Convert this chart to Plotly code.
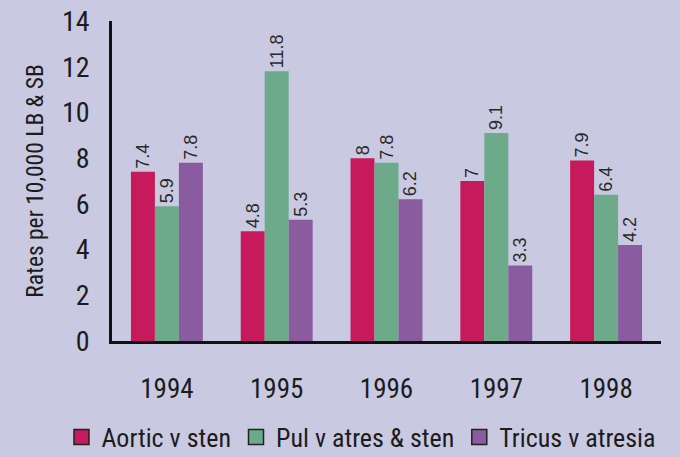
import plotly.graph_objects as go

years = ["1994", "1995", "1996", "1997", "1998"]
aortic = [7.4, 4.8, 8, 7, 7.9]
pulv = [5.9, 11.8, 7.8, 9.1, 6.4]
tricus = [7.8, 5.3, 6.2, 3.3, 4.2]
series_names = ["Aortic v sten", "Pul v atres & sten", "Tricus v atresia"]
colors = ["#C61A5C", "#6DAA8A", "#8B5BA0"]

BG = "#C9C9E2"
FONT = "Roboto Condensed, DejaVu Sans Condensed, sans-serif"
LBLFONT = "Liberation Sans, Arial, sans-serif"
INK = "#1c1c1c"

fig = go.Figure()
for name, vals, col in zip(series_names, [aortic, pulv, tricus], colors):
    fig.add_trace(go.Bar(
        x=years, y=vals, name=name, showlegend=False,
        marker=dict(color=col, line=dict(width=0)),
        text=[f"{v:g}" for v in vals],
        textposition="outside", textangle=-90, constraintext="none",
        textfont=dict(size=18, color="#2a2a2a", family=LBLFONT),
        cliponaxis=False,
    ))
# legend entries: square swatches with dark outline
for name, col in zip(series_names, colors):
    fig.add_trace(go.Scatter(
        x=[None], y=[None], mode="markers", name=name,
        marker=dict(symbol="square", size=15, color=col, line=dict(color="#222222", width=1.5)),
    ))

fig.update_layout(
    width=680, height=457,
    paper_bgcolor=BG, plot_bgcolor=BG,
    margin=dict(l=112, r=19, t=21, b=116, autoexpand=False),
    barmode="group", bargap=0.345, bargroupgap=0,
    font=dict(family=FONT, color=INK),
    showlegend=True,
    legend=dict(
        orientation="h", xref="paper", yref="paper",
        x=-0.092, y=-0.30, xanchor="left", yanchor="middle",
        font=dict(size=26, family=FONT, color=INK),
        bgcolor="rgba(0,0,0,0)", itemwidth=30, traceorder="normal",
        tracegroupgap=0, itemsizing="trace",
    ),
    xaxis=dict(
        showgrid=False, showline=True, linecolor="#111111", linewidth=3,
        ticks="", tickfont=dict(size=27, family=FONT, color=INK),
        ticklabelstandoff=22, range=[-0.5, 4.5],
    ),
    yaxis=dict(
        range=[0, 14], dtick=2, showgrid=False, zeroline=False,
        showline=True, linecolor="#111111", linewidth=2.5,
        ticks="", tickfont=dict(size=28, family=FONT, color=INK),
        ticklabelstandoff=14,
        title=dict(text="Rates per 10,000 LB & SB", font=dict(size=23.5, family=FONT, color=INK), standoff=12),
    ),
)

fig.write_html(
    "out.html",
    config={"displayModeBar": False},
    post_script=f"document.body.style.margin='0';document.body.style.background='{BG}';",
)
